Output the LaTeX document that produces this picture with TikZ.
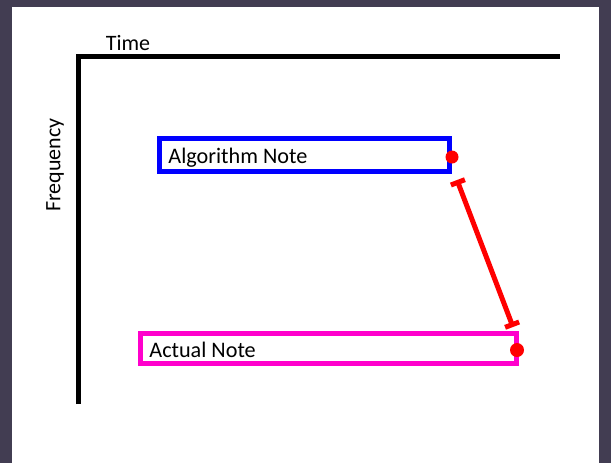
\documentclass[tikz,border=0pt]{standalone}
\usepackage{fontspec}
\setmainfont{Carlito}
\usetikzlibrary{arrows.meta}
\definecolor{frame}{RGB}{66,61,82}
\definecolor{notepink}{RGB}{255,0,204}
\tikzset{
  axis/.style={line width=2.5pt, black, line join=miter},
  notebox/.style={draw, line width=2.5pt, rectangle, inner sep=0pt},
  notetext/.style={anchor=base west, inner sep=0pt, font=\fontsize{11.1}{13}\selectfont},
  axislabel/.style={inner sep=0pt, font=\fontsize{11}{13}\selectfont},
  dot/.style={circle, fill=red, inner sep=0pt, minimum size=#1},
  gap/.style={red, line width=2.5pt, {Bar[width=7.5pt,line width=2.5pt]}-{Bar[width=7.5pt,line width=2.5pt]}}
}
\begin{document}
\begin{tikzpicture}[x=0.5pt, y=-0.5pt]
  % page frame: dark margins left, top and right
  \fill[frame] (0,0) rectangle (611,463);
  \fill[white] (12,7) rectangle (599,463);
  \useasboundingbox (0,0) rectangle (611,463);

  % axes
  \coordinate (origin) at (78.5,56.5);
  \coordinate (timeend) at (560,56.5);
  \coordinate (freqend) at (78.5,404);
  \draw[axis] (freqend) -- (origin) -- (timeend);
  \node[axislabel] (timelabel) at (128,43) {Time};
  \node[axislabel, rotate=90] (freqlabel) at (55,165) {Frequency};

  % notes
  \node[notebox, blue, minimum width=145pt, minimum height=16.5pt] (algo) at (304.5,155) {};
  \node[notetext] (algotext) at (168,163.5) {Algorithm Note};
  \node[notebox, notepink, minimum width=188pt, minimum height=15pt] (actual) at (328.5,348.5) {};
  \node[notetext] (actualtext) at (149,357.5) {Actual Note};

  % end points of the two notes
  \node[dot=6.5pt] (algodot) at (452,157) {};
  \node[dot=7pt] (actualdot) at (517,350) {};

  % pitch difference between them
  \coordinate (gaptop) at (457,180);
  \coordinate (gapbottom) at (513,327);
  \draw[gap] (gaptop) -- (gapbottom);
\end{tikzpicture}
\end{document}
